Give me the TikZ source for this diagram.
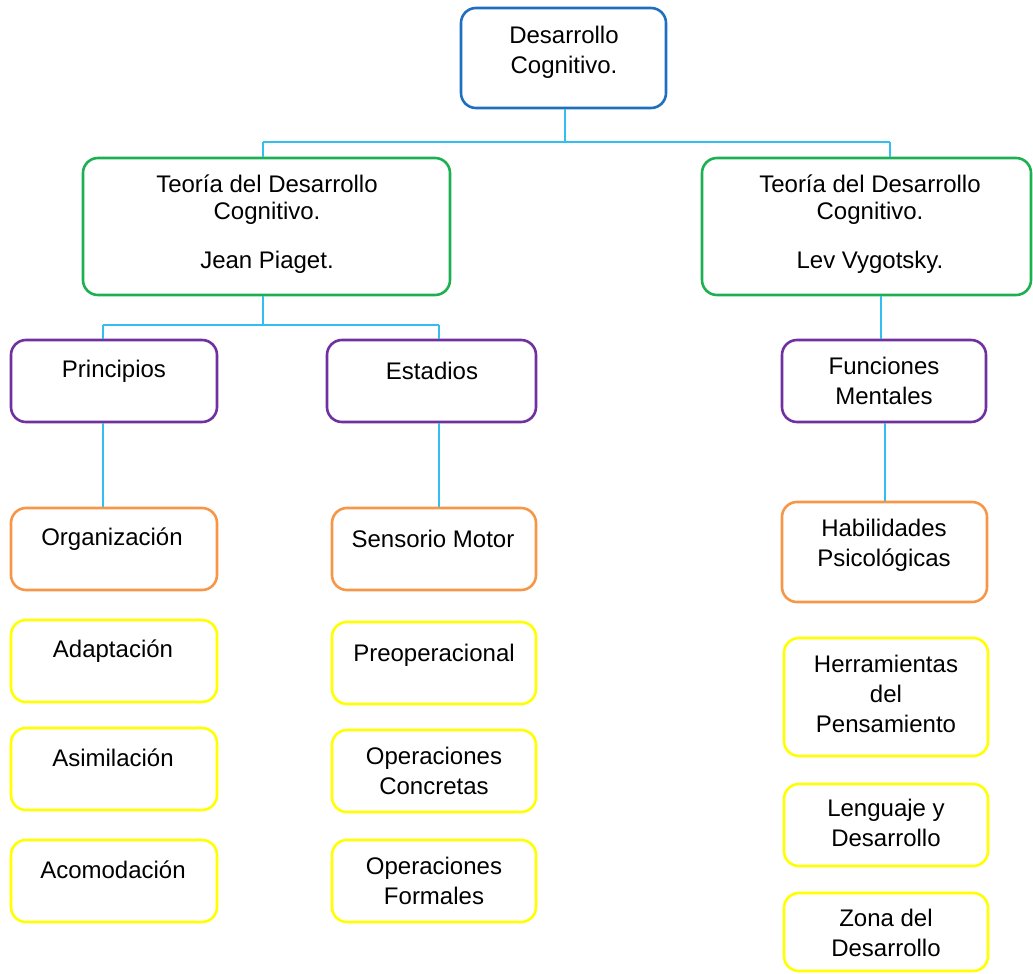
\documentclass[tikz,border=0pt]{standalone}
\usepackage{fontspec}
\setmainfont{Liberation Sans}
\usetikzlibrary{fit}
\definecolor{cblue}{HTML}{1F6FC0}
\definecolor{cgreen}{HTML}{1DB050}
\definecolor{cpurple}{HTML}{7030A0}
\definecolor{corange}{HTML}{F79646}
\definecolor{cyellow}{HTML}{FFFF00}
\definecolor{cline}{HTML}{33BEF0}
\tikzset{
  box/.style={draw=#1, line width=2.6pt, rounded corners=15pt, inner sep=0pt},
  txt/.style={align=center, font=\fontsize{24}{30}\selectfont, inner sep=0pt, text=black},
  conn/.style={draw=cline, line width=1.5pt},
}
\begin{document}
\begin{tikzpicture}[x=1pt,y=-1pt]
\useasboundingbox (0,0) rectangle (1033,974);
% boxes
\node[box=cblue,   fit={(461,8) (666,108)}]   (top) {};
\node[box=cgreen,  fit={(83,158) (450,295)}]  (gL) {};
\node[box=cgreen,  fit={(702,158) (1031,295)}] (gR) {};
\node[box=cpurple, fit={(11,340) (217,422)}]  (pP) {};
\node[box=cpurple, fit={(327,340) (536,422)}] (pE) {};
\node[box=cpurple, fit={(782,340) (986,422)}] (pF) {};
\node[box=corange, fit={(11,508) (217,590)}]  (oO) {};
\node[box=corange, fit={(332,508) (536,590)}] (oS) {};
\node[box=corange, fit={(782,502) (987,602)}] (oH) {};
\node[box=cyellow, fit={(11,620) (217,702)}]  (yA) {};
\node[box=cyellow, fit={(332,622) (536,704)}] (yP) {};
\node[box=cyellow, fit={(11,728) (217,810)}]  (yAs) {};
\node[box=cyellow, fit={(332,730) (536,812)}] (yOC) {};
\node[box=cyellow, fit={(11,840) (217,922)}]  (yAc) {};
\node[box=cyellow, fit={(332,840) (536,922)}] (yOF) {};
\node[box=cyellow, fit={(784,638) (988,756)}] (yH) {};
\node[box=cyellow, fit={(784,784) (988,866)}] (yL) {};
\node[box=cyellow, fit={(784,893) (988,971)}] (yZ) {};
% texts
\node[txt] (topT) at (564,52) {Desarrollo\\Cognitivo.};
\node[txt] (gLT) at (267,224) {Teoría del Desarrollo\\[-3pt]Cognitivo.\\[19pt]Jean Piaget.};
\node[txt] (gRT) at (870,224) {Teoría del Desarrollo\\[-3pt]Cognitivo.\\[19pt]Lev Vygotsky.};
\node[txt] (pPT) at (114,371) {Principios};
\node[txt] (pET) at (432,371) {Estadios};
\node[txt] (pFT) at (884,381) {Funciones\\Mentales};
\node[txt] (oOT) at (112,539) {Organización};
\node[txt] (oST) at (433,539) {Sensorio Motor};
\node[txt] (oHT) at (884,545) {Habilidades\\Psicológicas};
\node[txt] (yAT) at (113,651) {Adaptación};
\node[txt] (yPT) at (434,655) {Preoperacional};
\node[txt] (yAsT) at (113,758) {Asimilación};
\node[txt] (yOCT) at (434,771) {Operaciones\\Concretas};
\node[txt] (yAcT) at (113,870) {Acomodación};
\node[txt] (yOFT) at (434,881) {Operaciones\\Formales};
\node[txt] (yHT) at (886,694) {Herramientas\\del\\Pensamiento};
\node[txt] (yLT) at (886,823) {Lenguaje y\\Desarrollo};
\node[txt] (yZT) at (886,933) {Zona del\\Desarrollo};
% connectors
\coordinate (jA) at (263,142);
\coordinate (jB) at (890,142);
\coordinate (j0) at (565,142);
\draw[conn] (j0 |- top.south) -- (j0);
\draw[conn] (jA) -- (jB);
\draw[conn] (jA) -- (jA |- gL.north);
\draw[conn] (jB) -- (jB |- gR.north);
\coordinate (kA) at (103,325);
\coordinate (kB) at (439,325);
\coordinate (k0) at (263,325);
\draw[conn] (k0 |- gL.south) -- (k0);
\draw[conn] (kA) -- (kB);
\draw[conn] (kA) -- (kA |- pP.north);
\draw[conn] (kB) -- (kB |- pE.north);
\coordinate (m0) at (881,300);
\draw[conn] (m0 |- gR.south) -- (m0 |- pF.north);
\draw[conn] (kA |- pP.south) -- (kA |- oO.north);
\draw[conn] (kB |- pE.south) -- (kB |- oS.north);
\coordinate (n0) at (885,450);
\draw[conn] (n0 |- pF.south) -- (n0 |- oH.north);
\end{tikzpicture}
\end{document}
